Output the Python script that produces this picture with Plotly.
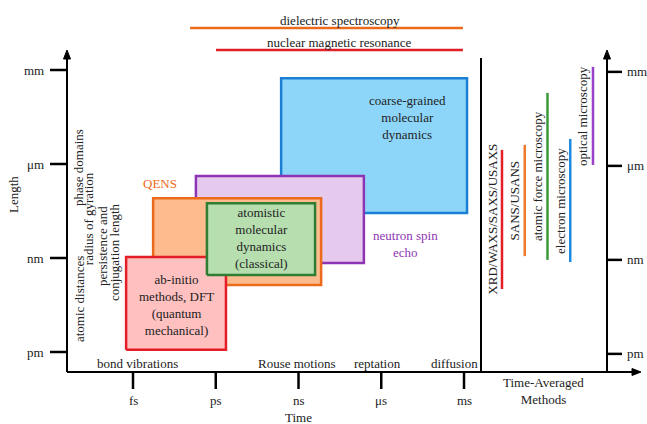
import plotly.graph_objects as go

# ---------------- data (log10 seconds / log10 metres) ----------------
time_ticks = [-15, -12, -9, -6, -3]
time_tick_labels = ["fs", "ps", "ns", "μs", "ms"]
length_ticks = [-12, -9, -6, -3]
length_tick_labels = ["pm", "nm", "μm", "mm"]

# simulation / scattering boxes: time range and length range
box_names = ["coarse-grained", "neutron spin echo", "QENS", "ab-initio", "atomistic"]
box_t_min = [-9.63, -12.72, -14.27, -15.25, -12.32]
box_t_max = [-2.89, -6.63, -8.18, -11.63, -8.40]
box_L_min = [-7.56, -9.16, -9.86, -11.93, -9.54]
box_L_max = [-3.26, -6.38, -7.09, -8.97, -7.25]

# time-resolved techniques shown as horizontal bars above the plot
top_methods = ["dielectric spectroscopy", "nuclear magnetic resonance"]
top_t_min = [-12.93, -11.99]
top_t_max = [-3.04, -3.04]

# time-averaged methods: length ranges
avg_methods = ["XRD/WAXS/SAXS/USAXS", "SANS/USANS", "atomic force microscopy",
               "electron microscopy", "optical microscopy"]
avg_L_min = [-9.99, -8.94, -9.06, -9.13, -6.03]
avg_L_max = [-5.55, -5.39, -3.73, -5.20, -2.90]

# processes along the time axis
process_labels = ["bond vibrations", "Rouse motions", "reptation", "diffusion"]
process_t = [-14.82, -9.06, -6.12, -3.36]

# structural length scales
scale_labels = ["phase domains", "radius of gyration", "persistence and",
                "conjugation length", "atomic distances"]
scale_L = [-6.13, -7.76, -8.62, -8.81, -10.31]

# ---------------- layout geometry ----------------
W, H = 647, 424
X0, X1 = -19.822, 3.634          # time axis range across full width
Y0, Y1 = -14.298, -0.766         # length axis range across full height
I0, I1 = -22.066, 6.374          # category axis for time-averaged methods


def tx(px):
    return X0 + px / W * (X1 - X0)


def ix(px):
    return I0 + px / W * (I1 - I0)


def ly(py):
    return Y1 - py / H * (Y1 - Y0)


FONT = "Times New Roman, Liberation Serif, DejaVu Serif, serif"
TXT = "#222222"
box_line = ["#1B7FD3", "#8E35B5", "#EC6A1C", "#E41E26", "#2E7D32"]
box_fill = ["#8DD6FA", "#E6CAEE", "#FDBB8E", "#FFC0C0", "#B6DEAF"]
top_colors = ["#EC6A1C", "#E41E26"]
avg_colors = ["#E41E26", "#EE7A2E", "#3A9A3A", "#1E8AE0", "#9A3FC8"]

fig = go.Figure()

# boxes
for i in range(len(box_names)):
    a, b, c, d = box_t_min[i], box_t_max[i], box_L_min[i], box_L_max[i]
    fig.add_trace(go.Scatter(
        x=[a, b, b, a, a], y=[c, c, d, d, c], mode="lines",
        fill="toself", fillcolor=box_fill[i],
        line=dict(color=box_line[i], width=2.5),
        hoverinfo="skip", showlegend=False))

# top technique bars
top_y = [ly(28), ly(50)]
for i in range(len(top_methods)):
    fig.add_trace(go.Scatter(
        x=[top_t_min[i], top_t_max[i]], y=[top_y[i], top_y[i]], mode="lines",
        line=dict(color=top_colors[i], width=2.5), hoverinfo="skip", showlegend=False))

# time-averaged methods on second x axis
for i in range(len(avg_methods)):
    fig.add_trace(go.Scatter(
        x=[i, i], y=[avg_L_min[i], avg_L_max[i]], mode="lines", xaxis="x2",
        line=dict(color=avg_colors[i], width=2.5), hoverinfo="skip", showlegend=False))

shapes = []
ann = []

def line(x0, y0, x1, y1, xref="x", w=2):
    shapes.append(dict(type="line", xref=xref, yref="y", x0=x0, y0=y0, x1=x1, y1=y1,
                       line=dict(color="black", width=w), layer="above"))

def tri(pts, xref="x"):
    p = "M " + " L ".join(f"{x},{y}" for x, y in pts) + " Z"
    shapes.append(dict(type="path", xref=xref, yref="y", path=p,
                       fillcolor="black", line=dict(color="black", width=1), layer="above"))

def text(x, y, s, xref="x", size=13, color=TXT, angle=0, xanchor="center", yanchor="middle"):
    ann.append(dict(x=x, y=y, xref=xref, yref="y", text=s, showarrow=False,
                    font=dict(family=FONT, size=size, color=color), textangle=angle,
                    xanchor=xanchor, yanchor=yanchor))

# axes frame
axis_y = ly(372)
line(tx(67), axis_y, tx(67), ly(57))                  # left axis
tri([(tx(67), ly(50)), (tx(63.5), ly(59)), (tx(70.5), ly(59))])
line(tx(67), axis_y, tx(633), axis_y)                  # bottom axis
tri([(tx(641), axis_y), (tx(632), ly(368.5)), (tx(632), ly(375.5))])
line(tx(481), axis_y, tx(481), ly(58))                 # separator
line(ix(607), axis_y, ix(607), ly(57), xref="x2")      # right axis
tri([(ix(607), ly(50)), (ix(603.5), ly(59)), (ix(610.5), ly(59))], xref="x2")

# time ticks
for t, lab in zip(time_ticks, time_tick_labels):
    line(t, axis_y, t, ly(389), w=2.5)
    text(t, ly(400), lab)
# length ticks left and right
for L, lab in zip(length_ticks, length_tick_labels):
    line(tx(50), L, tx(67), L, w=2.5)
    text(tx(46), L, lab, xanchor="right")
    line(ix(607), L - 0.06, ix(622), L - 0.06, xref="x2", w=2.5)
    text(ix(625), L - 0.06, lab, xref="x2", xanchor="left")

# axis titles
text(tx(13), ly(195), "Length", angle=-90)
text(tx(298), ly(417), "Time")
text(ix(543), ly(391), "Time-Averaged<br>Methods", xref="x2")

# box labels
text((box_t_min[3] + box_t_max[3]) / 2, ly(305),
     "ab-initio<br>methods, DFT<br>(quantum<br>mechanical)")
text((box_t_min[4] + box_t_max[4]) / 2, ly(238),
     "atomistic<br>molecular<br>dynamics<br>(classical)")
text(tx(407), ly(117), "coarse-grained<br>molecular<br>dynamics")
text(tx(160), ly(183), "QENS", color=box_line[2])
text(tx(405), ly(244), "neutron spin<br>echo", color=box_line[1])

# top technique labels
text(tx(340), ly(20), top_methods[0])
text(tx(339), ly(42), top_methods[1])

# process labels
for t, lab in zip(process_t, process_labels):
    text(t, ly(363), lab)

# structural scale labels
scale_px = [78, 88, 102, 114, 79]
for px, L, lab in zip(scale_px, scale_L, scale_labels):
    text(tx(px), L, lab, angle=-90)

# time-averaged method labels
for i, lab in enumerate(avg_methods):
    text(i - 0.43, (avg_L_min[i] + avg_L_max[i]) / 2, lab, xref="x2", angle=-90)

fig.update_layout(
    width=W, height=H, margin=dict(l=0, r=0, t=0, b=0),
    paper_bgcolor="white", plot_bgcolor="white",
    xaxis=dict(range=[X0, X1], visible=False, fixedrange=True),
    xaxis2=dict(range=[I0, I1], visible=False, overlaying="x", fixedrange=True),
    yaxis=dict(range=[Y0, Y1], visible=False, fixedrange=True),
    shapes=shapes, annotations=ann, showlegend=False,
)

fig.write_html("out.html", config={"displayModeBar": False},
               post_script="document.body.style.margin='0';document.body.style.overflow='hidden';")
